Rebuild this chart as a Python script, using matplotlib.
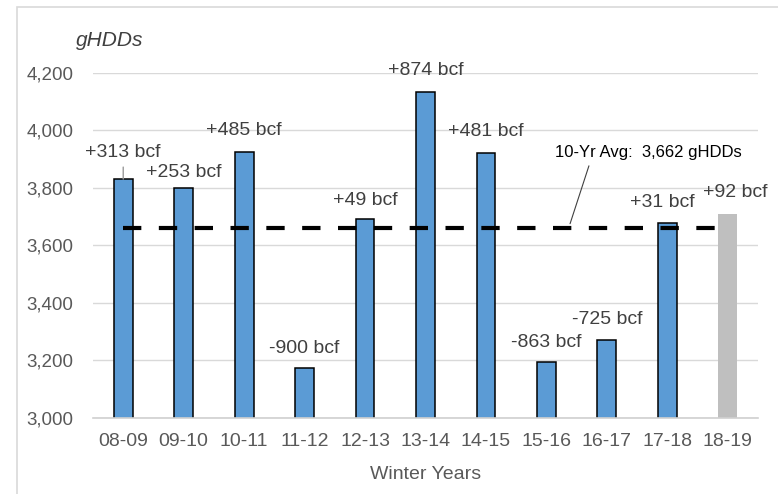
import matplotlib
matplotlib.use("Agg")
import matplotlib.pyplot as plt
from matplotlib.patches import Rectangle
from matplotlib.ticker import FuncFormatter, MultipleLocator

# winter heating degree days and storage change labels
winters = ["08-09", "09-10", "10-11", "11-12", "12-13", "13-14",
           "14-15", "15-16", "16-17", "17-18", "18-19"]
ghdds = [3831, 3800, 3925, 3174, 3692, 4134, 3922, 3195, 3271, 3678, 3710]
storage_labels = ["+313 bcf", "+253 bcf", "+485 bcf", "-900 bcf", "+49 bcf",
                  "+874 bcf", "+481 bcf", "-863 bcf", "-725 bcf", "+31 bcf",
                  "+92 bcf"]
ten_yr_avg = 3662

# label placement in pixels above each bar (x shift, y shift)
label_dx = [0, 0, 0, 0, 0, 0, 0, 0, 0, -5, 7]
label_dy = [27, 15, 22, 19, 19, 21, 21, 19, 21, 21, 21]

BLUE = "#5B9BD5"
GREY = "#BFBFBF"
TXT = "#404040"

plt.rcParams["font.family"] = ["Liberation Sans", "DejaVu Sans"]

fig = plt.figure(figsize=(7.78, 4.94), dpi=100)
ax = fig.add_axes([93 / 778, 1 - 418 / 494, 665 / 778, 345 / 494])

x = list(range(len(winters)))
colors = [BLUE] * (len(winters) - 1) + [GREY]
edges = ["black"] * (len(winters) - 1) + ["none"]
ax.bar(x, ghdds, width=0.31, color=colors, edgecolor=edges, linewidth=1.1,
       zorder=2)

# dashed 10 year average across the completed winters
ax.plot([x[0], x[-1]], [ten_yr_avg, ten_yr_avg], color="black", lw=3,
        dashes=(4.4, 4.2), dash_capstyle="butt", zorder=3)

px = 72 / fig.dpi
for i, (v, lab) in enumerate(zip(ghdds, storage_labels)):
    ax.annotate(lab, xy=(i, v),
                xytext=(label_dx[i] * px, label_dy[i] * px),
                textcoords="offset points", ha="center", va="center",
                fontsize=14, color=TXT)

# short leader from the first label down to its bar
ax.annotate("", xy=(0, ghdds[0]), xytext=(0, 12 * px),
            textcoords="offset points",
            arrowprops=dict(arrowstyle="-", color="#9A9A9A", lw=1,
                            shrinkA=0, shrinkB=0))

ax.annotate("10-Yr Avg:  3,662 gHDDs", xy=(7.37, ten_yr_avg),
            xytext=(8.69, 3922), ha="center", va="center", fontsize=12,
            color="black",
            arrowprops=dict(arrowstyle="-", color="#404040", lw=0.8,
                            relpos=(0.19, 0), shrinkA=2, shrinkB=3))

ax.set_xlim(-0.5, len(winters) - 0.5)
ax.set_ylim(3000, 4200)
ax.yaxis.set_major_locator(MultipleLocator(200))
ax.yaxis.set_major_formatter(FuncFormatter(lambda v, p: f"{v:,.0f}"))
ax.set_xticks(x)
ax.set_xticklabels(winters)
ax.tick_params(axis="y", length=0, pad=14, labelsize=13.5, labelcolor="#595959")
ax.tick_params(axis="x", length=0, pad=10.5, labelsize=14, labelcolor="#595959")
ax.grid(axis="y", color="#D9D9D9", lw=1, zorder=0)
ax.set_axisbelow(True)
for s in ["top", "right", "left"]:
    ax.spines[s].set_visible(False)
ax.spines["bottom"].set_color("#D0D0D0")
ax.spines["bottom"].set_linewidth(1.2)

ax.set_xlabel("Winter Years", fontsize=14, color="#595959", labelpad=12)
fig.text(110 / 778, 1 - 40 / 494, "gHDDs", fontsize=15, style="italic",
         color=TXT, ha="center", va="center")

# chart frame
fig.patches.append(Rectangle((17 / 778, -0.1), 2, 1 - 6.5 / 494 + 0.1,
                             transform=fig.transFigure, fill=False,
                             edgecolor="#D9D9D9", lw=1.2))

fig.savefig("out.png", dpi=100)
